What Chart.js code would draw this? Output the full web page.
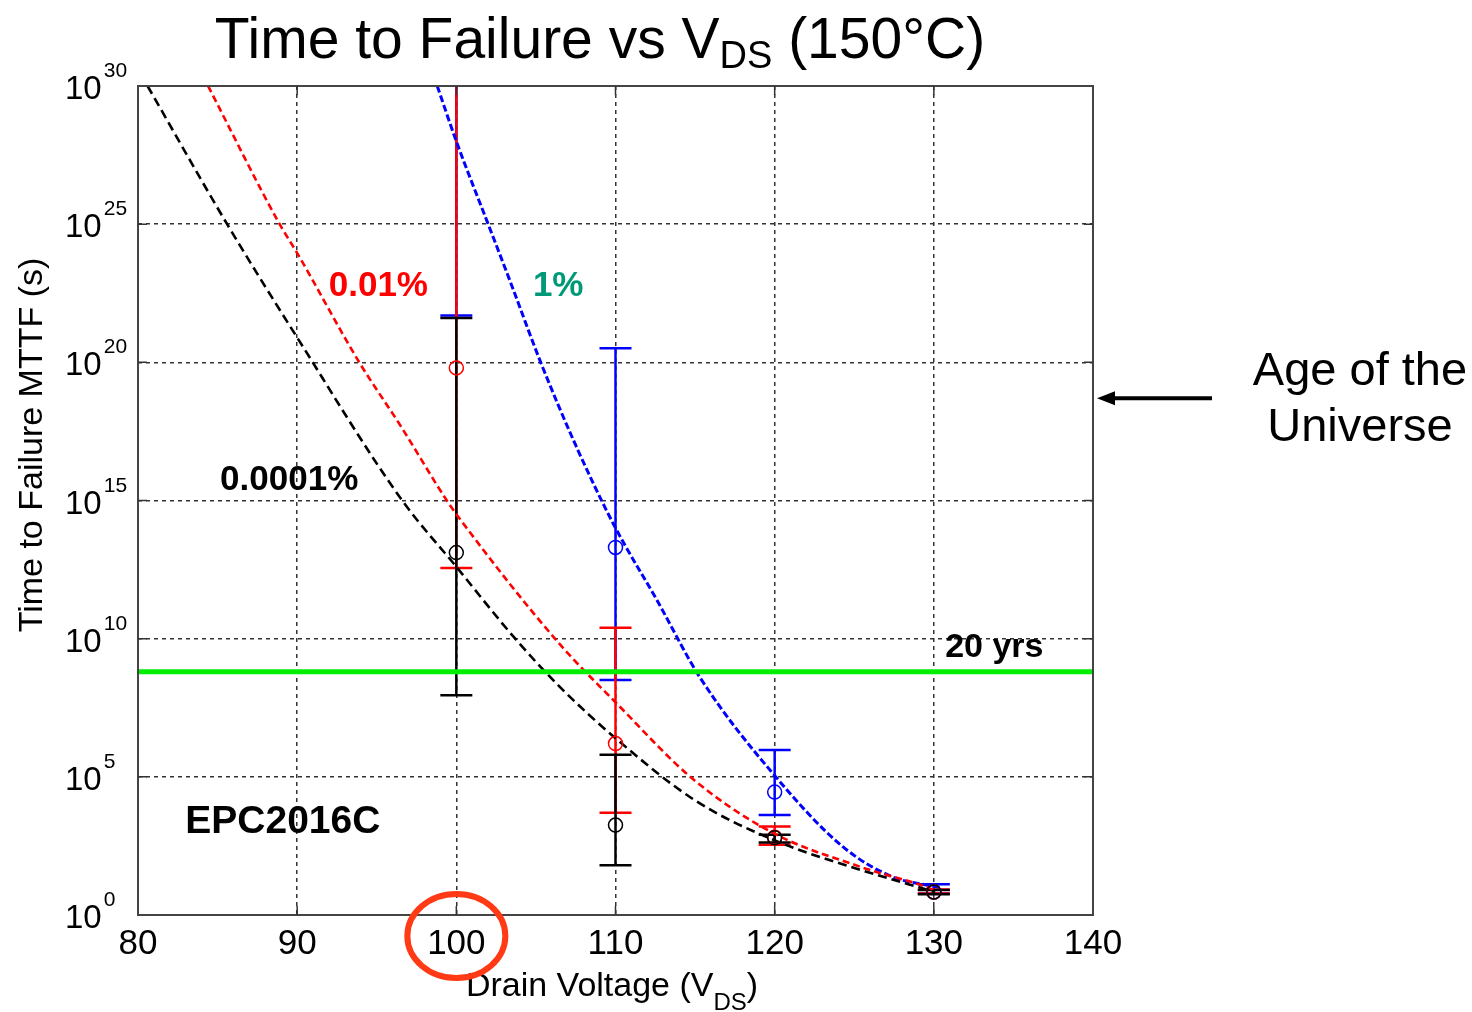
<!DOCTYPE html>
<html>
<head>
<meta charset="utf-8">
<script src="https://cdn.jsdelivr.net/npm/chart.js@4.4.1/dist/chart.umd.min.js"></script>
<style>
  html, body { margin: 0; padding: 0; background: #fff; }
  #wrap { width: 1472px; height: 1012px; position: relative; }
</style>
</head>
<body>
<div id="wrap"><canvas id="mttfChart"></canvas></div>
<script>
// Axes
const xTicks = [80, 90, 100, 110, 120, 130, 140];
const yTickExp = [0, 5, 10, 15, 20, 25, 30];

// Dashed model curves (drain voltage, time to failure in s)
const blackCurveV = [80.6, 85.6, 90, 96.6, 100, 103.7, 106.5, 110, 115, 120, 125.4, 130];
const blackCurveT = [1e30, 1e25, 7.9e20, 1e15, 4e12, 1e10, 1.8e8, 2.5e6, 1.4e4, 500, 43, 7];
const redCurveV = [84.4, 88.9, 90, 93.9, 96.5, 99.4, 100, 106.5, 110, 114.9, 119.9, 125.4, 129.6, 130];
const redCurveT = [1e30, 1e25, 9e23, 1e20, 5e17, 1e15, 3.2e14, 6.3e9, 5e7, 8e4, 930, 55, 10, 8];
const blueCurveV = [98.8, 100, 102, 103.4, 105.3, 107.5, 109.9, 112.6, 115.3, 119.9, 124.3, 127.4, 129.6, 130.5];
const blueCurveT = [1e30, 1e28, 1e25, 8e22, 1e20, 1e17, 1.3e14, 2.5e11, 4e8, 1.3e5, 290, 24, 12, 10];

// Measured points with error bars
const errV = [100, 110, 120, 130];
const blackMid = [1.3e13, 1.8e3, 630, 6.8];
const blackLo = [9e7, 63, 420, 5.6];
const blackHi = [4e21, 6.3e5, 800, 8];
const redMid = [6.3e19, 1.6e6, 650, 6.8];
const redLo = [3.6e12, 5e3, 350, 6];
const redHi = [1e34, 2.5e10, 1600, 8.3];
const blueMid = [1e32, 2e13, 2.8e4, 6.8];
const blueLo = [5e21, 3.2e8, 4.2e3, 6];
const blueHi = [1e36, 3.2e20, 9.3e5, 13];

// Reference levels
const twentyYears = 6.3e8;
const universeArrowT = 5e18;

const FONT = "'Liberation Sans', Arial, Helvetica, sans-serif";

function pts(xs, ys) {
  return xs.map((v, i) => ({ x: v, y: ys[i] }));
}

const errorSeries = [
  { color: '#0000ff', mid: blueMid, lo: blueLo, hi: blueHi },
  { color: '#ff0000', mid: redMid, lo: redLo, hi: redHi },
  { color: '#000000', mid: blackMid, lo: blackLo, hi: blackHi }
];

// text labels inside the plot, placed in data coordinates
const plotLabels = [
  { text: '0.01%', v: 95.1, t: 5.4e22, color: '#ff0000', size: 35 },
  { text: '1%', v: 106.4, t: 5.4e22, color: '#009977', size: 35 },
  { text: '0.0001%', v: 89.5, t: 5.5e15, color: '#000000', size: 35 },
  { text: 'EPC2016C', v: 89.1, t: 2300, color: '#000000', size: 39 },
  { text: '20 yrs', v: 133.8, t: 4.6e9, color: '#000000', size: 34 }
];

function drawParts(ctx, parts, cx, baseline) {
  let total = 0;
  parts.forEach(p => {
    ctx.font = p.size + 'px ' + FONT;
    p.w = ctx.measureText(p.t).width;
    total += p.w;
  });
  let xx = cx - total / 2;
  ctx.textAlign = 'left';
  ctx.textBaseline = 'alphabetic';
  parts.forEach(p => {
    ctx.font = p.size + 'px ' + FONT;
    ctx.fillText(p.t, xx, baseline + (p.dy || 0));
    xx += p.w;
  });
}

const errorBarPlugin = {
  id: 'errorBars',
  beforeDatasetsDraw(chart) {
    const { ctx, chartArea: a, scales: { x, y } } = chart;
    ctx.save();
    ctx.beginPath();
    ctx.rect(a.left, a.top, a.width, a.height);
    ctx.clip();
    ctx.lineWidth = 2.5;
    errorSeries.forEach(s => {
      ctx.strokeStyle = s.color;
      errV.forEach((v, i) => {
        const px = x.getPixelForValue(v);
        const top = y.getPixelForValue(s.hi[i]);
        const bot = y.getPixelForValue(s.lo[i]);
        ctx.beginPath();
        ctx.moveTo(px, top); ctx.lineTo(px, bot);
        ctx.moveTo(px - 16, top); ctx.lineTo(px + 16, top);
        ctx.moveTo(px - 16, bot); ctx.lineTo(px + 16, bot);
        ctx.stroke();
      });
    });
    ctx.restore();
  },
  afterDatasetsDraw(chart) {
    const { ctx, scales: { x, y } } = chart;
    ctx.save();
    ctx.textAlign = 'center';
    ctx.textBaseline = 'middle';
    plotLabels.forEach(l => {
      ctx.font = 'bold ' + l.size + 'px ' + FONT;
      ctx.fillStyle = l.color;
      ctx.fillText(l.text, x.getPixelForValue(l.v), y.getPixelForValue(l.t));
    });
    ctx.restore();
  }
};

const decorPlugin = {
  id: 'decor',
  afterDraw(chart) {
    const { ctx, chartArea: a, scales: { x, y } } = chart;
    ctx.save();

    // box and inward ticks (matlab style)
    ctx.strokeStyle = '#444';
    ctx.lineWidth = 2;
    ctx.strokeRect(a.left, a.top, a.width, a.height);
    ctx.lineWidth = 1.5;
    ctx.strokeStyle = '#333';
    ctx.beginPath();
    xTicks.slice(1, -1).forEach(v => {
      const px = x.getPixelForValue(v);
      ctx.moveTo(px, a.bottom); ctx.lineTo(px, a.bottom - 9);
      ctx.moveTo(px, a.top); ctx.lineTo(px, a.top + 9);
    });
    yTickExp.slice(1, -1).forEach(e => {
      const py = y.getPixelForValue(Math.pow(10, e));
      ctx.moveTo(a.left, py); ctx.lineTo(a.left + 9, py);
      ctx.moveTo(a.right, py); ctx.lineTo(a.right - 9, py);
    });
    ctx.stroke();

    // y tick labels with exponent
    ctx.fillStyle = '#000';
    ctx.textAlign = 'left';
    ctx.textBaseline = 'alphabetic';
    yTickExp.forEach(e => {
      const py = y.getPixelForValue(Math.pow(10, e));
      ctx.font = '33px ' + FONT;
      ctx.fillText('10', 65, py + 13);
      const w = ctx.measureText('10').width;
      ctx.font = '21px ' + FONT;
      ctx.fillText(String(e), 65 + w + 2, py - 9);
    });

    // title
    drawParts(ctx, [
      { t: 'Time to Failure vs V', size: 57 },
      { t: 'DS', size: 38, dy: 10 },
      { t: ' (150°C)', size: 57 }
    ], 600, 58);

    // x axis title
    drawParts(ctx, [
      { t: 'Drain Voltage (V', size: 34 },
      { t: 'DS', size: 24, dy: 14 },
      { t: ')', size: 34 }
    ], 612, 996);

    // y axis title
    ctx.save();
    ctx.translate(42, 445);
    ctx.rotate(-Math.PI / 2);
    ctx.font = '34px ' + FONT;
    ctx.textAlign = 'center';
    ctx.fillText('Time to Failure MTTF (s)', 0, 0);
    ctx.restore();

    // age of the universe arrow
    const ay = y.getPixelForValue(universeArrowT);
    ctx.strokeStyle = '#000';
    ctx.lineWidth = 4;
    ctx.beginPath();
    ctx.moveTo(a.right + 119, ay);
    ctx.lineTo(a.right + 16, ay);
    ctx.stroke();
    ctx.fillStyle = '#000';
    ctx.beginPath();
    ctx.moveTo(a.right + 4, ay);
    ctx.lineTo(a.right + 22, ay - 7);
    ctx.lineTo(a.right + 22, ay + 7);
    ctx.closePath();
    ctx.fill();
    ctx.font = '47px ' + FONT;
    ctx.textAlign = 'center';
    ctx.fillText('Age of the', 1360, 385);
    ctx.fillText('Universe', 1360, 441);

    // highlight circle around 100 V
    ctx.strokeStyle = '#ff3a14';
    ctx.lineWidth = 6;
    ctx.beginPath();
    ctx.ellipse(x.getPixelForValue(100), a.bottom + 21, 49, 42, 0, 0, Math.PI * 2);
    ctx.stroke();

    ctx.restore();
  }
};

const ctx = document.getElementById('mttfChart');

new Chart(ctx, {
  type: 'line',
  data: {
    datasets: [
      {
        label: '20 yrs',
        data: pts([80, 140], [twentyYears, twentyYears]),
        borderColor: '#00ee00',
        borderWidth: 5,
        pointRadius: 0,
        order: 0
      },
      {
        label: 'black pts',
        type: 'scatter',
        data: pts(errV, blackMid),
        borderColor: '#000',
        backgroundColor: 'rgba(0,0,0,0)',
        pointRadius: 7,
        borderWidth: 1.5,
        order: 1
      },
      {
        label: 'red pts',
        type: 'scatter',
        data: pts(errV, redMid),
        borderColor: '#ff0000',
        backgroundColor: 'rgba(0,0,0,0)',
        pointRadius: 7,
        borderWidth: 1.5,
        order: 1
      },
      {
        label: 'blue pts',
        type: 'scatter',
        data: pts(errV, blueMid),
        borderColor: '#0000ff',
        backgroundColor: 'rgba(0,0,0,0)',
        pointRadius: 7,
        borderWidth: 1.5,
        order: 1
      },
      {
        label: '0.0001%',
        data: pts(blackCurveV, blackCurveT),
        borderColor: '#000',
        borderWidth: 2.6,
        borderDash: [9, 5],
        pointRadius: 0,
        cubicInterpolationMode: 'monotone',
        order: 2
      },
      {
        label: '0.01%',
        data: pts(redCurveV, redCurveT),
        borderColor: '#ff0000',
        borderWidth: 2.6,
        borderDash: [7, 4],
        pointRadius: 0,
        cubicInterpolationMode: 'monotone',
        order: 2
      },
      {
        label: '1%',
        data: pts(blueCurveV, blueCurveT),
        borderColor: '#0000ff',
        borderWidth: 3,
        borderDash: [7, 3],
        pointRadius: 0,
        cubicInterpolationMode: 'monotone',
        order: 2
      }
    ]
  },
  options: {
    responsive: true,
    maintainAspectRatio: false,
    animation: false,
    layout: { padding: { left: 0, top: 86, right: 379, bottom: 0 } },
    plugins: {
      legend: { display: false },
      tooltip: { enabled: false },
      title: { display: false }
    },
    scales: {
      x: {
        type: 'linear',
        min: 80,
        max: 140,
        afterBuildTicks: s => { s.ticks = xTicks.map(v => ({ value: v })); },
        afterFit: s => { s.height = 97; },
        ticks: {
          color: '#000',
          padding: 8,
          maxRotation: 0,
          font: { family: FONT, size: 35 }
        },
        grid: { color: '#333', lineWidth: 1.5, drawTicks: false },
        border: { display: false, dash: [4, 4] }
      },
      y: {
        type: 'logarithmic',
        min: 1,
        max: 1e30,
        afterBuildTicks: s => { s.ticks = yTickExp.map(e => ({ value: Math.pow(10, e) })); },
        afterFit: s => { s.width = 138; },
        ticks: { display: false },
        grid: { color: '#333', lineWidth: 1.5, drawTicks: false },
        border: { display: false, dash: [4, 4] }
      }
    }
  },
  plugins: [errorBarPlugin, decorPlugin]
});
</script>
</body>
</html>
